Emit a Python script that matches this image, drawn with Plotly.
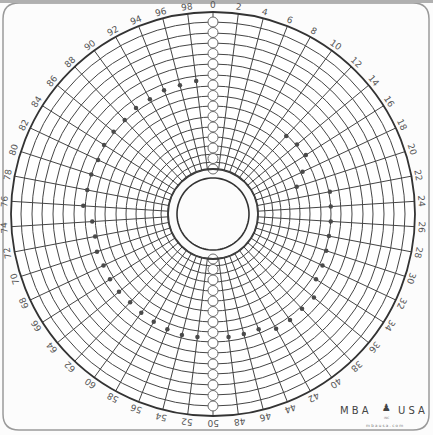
import plotly.graph_objects as go
import math

# ---------------- data ----------------
spoke_labels = [str(v) for v in range(0, 100, 2)]          # angular tick labels 0..98
ring_radii = [45, 52, 60, 68, 77, 87, 97, 108, 118, 128, 139, 150, 160, 171, 181, 192]
outer_radius = 202
hole_edge = 45
hole_circle = 36

# small open circles printed along the 0 and 50 spokes
marker_radii = [192, 181.5, 171, 160.5, 150, 139.5, 129, 118.5, 108, 97.5, 87, 76.5, 66, 55.5, 45]

# recorded dots (angle label, radius)
dot_theta = ["12", "14", "16", "18", "20", "22", "24", "26", "28", "30", "32", "34", "36", "38",
             "40", "42", "44", "46", "48", "52", "54", "56", "58", "60", "62", "64", "66", "68",
             "70", "72", "74", "76", "78", "80", "82", "84", "86", "88", "90", "92", "94", "96", "98"]
dot_r = [107, 109, 110, 99, 88, 119, 118, 118, 118, 119, 121, 122, 131, 130,
         131, 131, 124, 124, 124, 124, 125, 124, 123, 122, 121, 122, 122, 121,
         122, 120, 121, 130, 128, 128, 127, 129, 129, 129, 131, 131, 133, 133, 134]

W, H = 433, 435
ML, MR, MT, MB = 11, 18, 12, 19
PW = W - ML - MR   # 404
PH = H - MT - MB   # 404

grid_col = "#454545"
text_col = "#555555"

fig = go.Figure()

# recorded dots
fig.add_trace(go.Scatterpolar(
    r=dot_r, theta=dot_theta, mode="markers",
    marker=dict(size=4.5, color="#4a4a4a"),
    subplot="polar", showlegend=False, hoverinfo="skip"))

# small circles on the 0 and 50 spokes
for lab in ["0", "50"]:
    fig.add_trace(go.Scatterpolar(
        r=marker_radii, theta=[lab] * len(marker_radii), mode="markers",
        marker=dict(size=10, color="white", line=dict(color="#6a6a6a", width=1)),
        subplot="polar", showlegend=False, hoverinfo="skip"))

# inner edge ring and hole circle (second overlaid polar without hole)
circ_theta = [i * 3.6 for i in range(101)]
fig.add_trace(go.Scatterpolar(
    r=[hole_edge] * len(circ_theta), theta=circ_theta, mode="lines",
    line=dict(color=grid_col, width=1), subplot="polar2",
    showlegend=False, hoverinfo="skip"))
fig.add_trace(go.Scatterpolar(
    r=[hole_circle] * len(circ_theta), theta=circ_theta, mode="lines",
    line=dict(color="#333333", width=1.6), subplot="polar2",
    showlegend=False, hoverinfo="skip"))

fig.update_layout(
    width=W, height=H, autosize=False,
    margin=dict(l=ML, r=MR, t=MT, b=MB, pad=0),
    paper_bgcolor="#fcfcfc",
    showlegend=False,
    polar=dict(
        domain=dict(x=[0, 1], y=[0, 1]),
        bgcolor="white",
        hole=hole_edge / outer_radius,
        radialaxis=dict(range=[hole_edge, outer_radius], tickmode="array", tickvals=ring_radii,
                        showticklabels=False, ticks="", showline=False,
                        gridcolor=grid_col, gridwidth=1),
        angularaxis=dict(type="category", categoryarray=spoke_labels,
                         direction="clockwise", rotation=90,
                         showticklabels=False, ticks="",
                         showline=True, linecolor="#333333", linewidth=1.8,
                         gridcolor=grid_col, gridwidth=1),
    ),
    polar2=dict(
        domain=dict(x=[0, 1], y=[0, 1]),
        bgcolor="rgba(0,0,0,0)",
        radialaxis=dict(range=[0, outer_radius], visible=False, showgrid=False),
        angularaxis=dict(direction="clockwise", rotation=90, visible=False, showgrid=False),
    ),
)

# rotated tangential angular labels
label_r = 209
n = len(spoke_labels)
for i, lab in enumerate(spoke_labels):
    ang = 360.0 * i / n
    a = math.radians(ang)
    fig.add_annotation(
        x=0.5 + label_r * math.sin(a) / PW, y=0.5 + label_r * math.cos(a) / PH,
        xref="paper", yref="paper", text=lab, showarrow=False,
        textangle=ang, font=dict(family="DejaVu Sans", size=9, color=text_col),
        xanchor="center", yanchor="middle")

def px(x):
    return (x - ML) / PW

def py(y):
    return 1 - (y - MT) / PH

# paper frame (rounded) and scan edge
x0, x1, y0, y1, rc = 3, 429, 3, 430, 16
path = (f"M {px(x0+rc)},{py(y0)} L {px(x1-rc)},{py(y0)} Q {px(x1)},{py(y0)} {px(x1)},{py(y0+rc)} "
        f"L {px(x1)},{py(y1-rc)} Q {px(x1)},{py(y1)} {px(x1-rc)},{py(y1)} "
        f"L {px(x0+rc)},{py(y1)} Q {px(x0)},{py(y1)} {px(x0)},{py(y1-rc)} "
        f"L {px(x0)},{py(y0+rc)} Q {px(x0)},{py(y0)} {px(x0+rc)},{py(y0)} Z")
fig.add_shape(type="path", path=path, xref="paper", yref="paper",
              line=dict(color="#9a9a9a", width=1.5), layer="below")
fig.add_shape(type="rect", xref="paper", yref="paper", x0=px(0), x1=px(W), y0=py(0), y1=py(3),
              line=dict(width=0), fillcolor="#b0b0b0", layer="below")

# maker's mark
mark = [("M B A", 354, 410, 10, "#444"), ("♟", 386, 407, 10, "#444"), ("U S A", 411, 410, 10, "#444"),
        ("INC", 386, 418, 3, "#777"), ("m b a u s a . c o m", 384, 425, 4, "#777")]
for txt, mx, my, fs, col in mark:
    fig.add_annotation(x=px(mx), y=py(my), xref="paper", yref="paper", text=txt,
                       showarrow=False, xanchor="center", yanchor="middle",
                       font=dict(family="DejaVu Sans", size=fs, color=col))

fig.write_html("out.html")
